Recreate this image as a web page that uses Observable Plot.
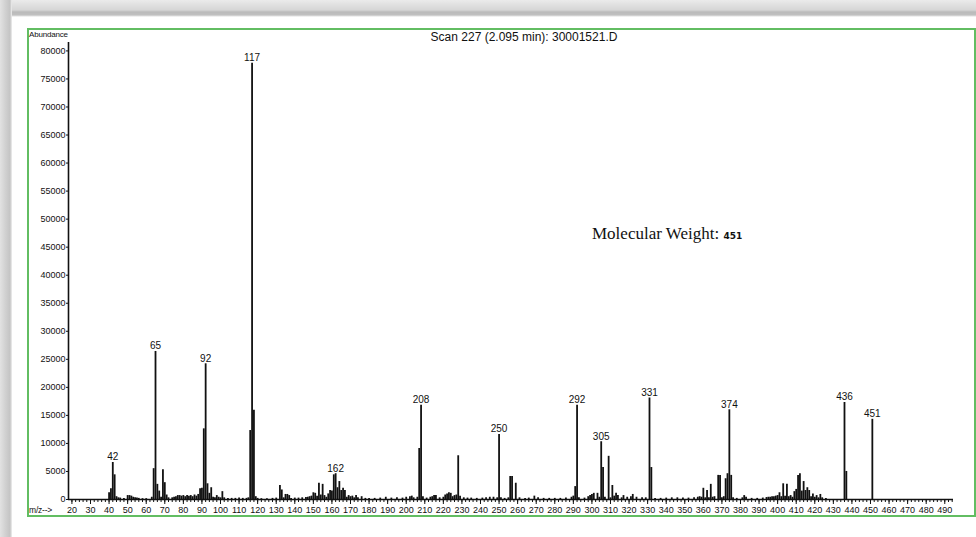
<!DOCTYPE html>
<html><head><meta charset="utf-8">
<script src="https://cdn.jsdelivr.net/npm/d3@7"></script>
<script src="https://cdn.jsdelivr.net/npm/@observablehq/plot@0.6"></script>
<style>
html,body{margin:0;padding:0;background:#fff;}
#wrap{position:relative;width:976px;height:537px;overflow:hidden;background:#fff;font-family:"Liberation Sans",Arial,sans-serif;}
#topband{position:absolute;left:0;top:0;width:976px;height:17px;background:linear-gradient(#ebebeb 0px,#e2e2e2 4px,#d6d6d6 10px,#bababa 12px,#c0c0c0 15px,#ffffff 17px);}
#leftband{position:absolute;left:0;top:0;width:12px;height:537px;background:linear-gradient(90deg,#e2e2e2 0px,#d2d2d2 5px,#c4c4c4 10px,#f0f0f0 12px);}
#border{position:absolute;left:27px;top:28px;width:949px;height:489px;box-sizing:border-box;border:2px solid #62bd62;}
.t{position:absolute;white-space:nowrap;line-height:1;color:#111;}
#plot{position:absolute;left:0;top:0;}
</style></head>
<body>
<div id="wrap">
  <div id="topband"></div>
  <div id="leftband"></div>
  <div id="border"></div>
  <div id="plot"></div>
  <div class="t" style="left:29px;top:31px;font-size:8px;letter-spacing:-0.2px;">Abundance</div>
  <div class="t" style="left:29px;top:506px;font-size:8.5px;letter-spacing:-0.2px;">m/z--&gt;</div>
  <div class="t" style="left:0;width:1048px;text-align:center;top:31px;font-size:12px;">Scan 227 (2.095 min): 30001521.D</div>
  <div class="t" style="left:592px;top:225px;font-size:17px;font-family:'Liberation Serif','Times New Roman',serif;">Molecular Weight: <span style="font-family:'DejaVu Sans',sans-serif;font-weight:bold;font-size:9px;">451</span></div>
</div>
<script>
const mz = [40,41,42,43,44,45,46,48,50,51,52,53,54,55,56,58,60,63,64,65,66,67,68,69,70,71,72,74,75,76,77,78,79,80,81,82,83,84,85,86,87,88,89,90,91,92,93,94,95,96,97,98,99,100,101,102,104,106,108,110,112,114,115,116,117,118,119,120,122,125,128,130,132,133,134,135,136,137,138,140,142,144,146,147,148,149,150,151,152,153,154,155,156,157,158,159,160,161,162,163,164,165,166,167,168,169,170,171,172,173,174,176,178,180,183,186,189,192,195,198,200,202,203,204,206,207,208,209,211,213,214,215,216,218,220,221,222,223,224,225,226,227,228,229,231,233,235,238,241,243,245,247,249,250,251,253,255,256,257,259,261,264,266,269,271,274,277,280,283,286,289,290,291,292,293,296,298,299,300,301,303,304,305,306,307,309,310,311,312,313,314,316,317,319,321,322,324,327,329,331,332,334,337,340,343,346,349,352,355,357,358,359,360,361,362,363,364,365,366,368,369,370,371,372,373,374,375,376,378,381,382,383,386,389,392,394,395,396,397,398,399,400,401,402,403,404,405,406,407,408,409,410,411,412,413,414,415,416,417,418,419,420,421,422,423,424,426,436,437,451];
const abundance = [1200,1900,6600,4400,500,300,250,200,700,700,600,400,300,250,200,150,150,400,5500,26400,2700,1500,400,5300,3000,800,300,300,400,500,700,700,600,700,500,700,600,700,500,800,600,900,1900,2000,12600,24200,2800,1100,2100,400,300,700,400,300,1400,300,200,200,200,250,200,200,300,12300,77800,15900,500,200,150,150,200,250,2500,1700,300,900,900,700,200,250,250,300,350,400,500,600,1200,1100,600,2900,800,2700,700,400,1000,1600,1500,4400,4600,2100,3200,1600,2000,1600,400,700,500,600,300,700,300,500,200,200,200,250,400,250,300,250,400,500,600,300,400,9100,16800,500,250,400,500,700,700,300,400,800,1000,1200,1100,500,700,800,7800,600,300,250,250,200,250,300,400,400,300,11600,300,200,300,4100,4100,2900,300,200,250,600,300,200,200,200,200,250,400,600,2300,16800,300,250,500,700,900,1100,1100,400,10300,5700,400,7700,300,2500,600,1100,700,300,700,400,500,900,400,300,300,18100,5700,200,200,250,300,300,250,250,300,400,500,400,2000,300,1600,300,2700,400,500,4300,4300,300,500,3700,4600,16000,4300,300,200,300,700,400,200,200,250,350,400,400,500,500,600,700,1200,500,2800,600,2700,500,700,400,1400,1800,4300,4600,1500,3200,1600,2100,1600,500,1000,400,700,300,900,300,200,17300,5000,14300];
const labelMz = [42,65,92,117,162,208,250,292,305,331,374,436,451];
const yTicks = d3.range(0, 80001, 5000);
const xMajorTicks = d3.range(20, 491, 10);
const xMinorTicks = d3.range(20, 495, 2);

const peaks = mz.map((m, i) => ({mz: m, ab: abundance[i]}));
const labeled = peaks.filter(d => labelMz.includes(d.mz));

const chart = Plot.plot({
  width: 976,
  height: 537,
  marginLeft: 68,
  marginRight: 23,
  marginTop: 42,
  marginBottom: 38,
  style: {background: "transparent", fontFamily: "'Liberation Sans', Arial, sans-serif", fontSize: "9px", color: "#111"},
  x: {domain: [18.15, 494.7]},
  y: {domain: [0, 81500]},
  marks: [
    Plot.ruleX(peaks, {x: "mz", y1: 0, y2: "ab", stroke: "#111", strokeWidth: 1.8}),
    Plot.ruleY([0], {stroke: "#111", strokeWidth: 1.5}),
    Plot.ruleX([18.15], {stroke: "#111", strokeWidth: 1.6}),
    Plot.axisY({ticks: yTicks, tickSize: 2, tickPadding: 1, tickFormat: d3.format("d"), label: null, stroke: "#111", fill: "#111"}),
    Plot.axisX({ticks: xMinorTicks, tickSize: 3, tickFormat: () => "", label: null, stroke: "#111"}),
    Plot.axisX({ticks: xMajorTicks, tickSize: 5, tickPadding: 2, tickFormat: d3.format("d"), label: null, stroke: "#111", fill: "#111"}),
    Plot.text(labeled, {x: "mz", y: "ab", text: d => String(d.mz), lineAnchor: "bottom", dy: -2, fontSize: 10, fill: "#111"})
  ]
});
document.getElementById("plot").appendChild(chart);
</script>
</body></html>
